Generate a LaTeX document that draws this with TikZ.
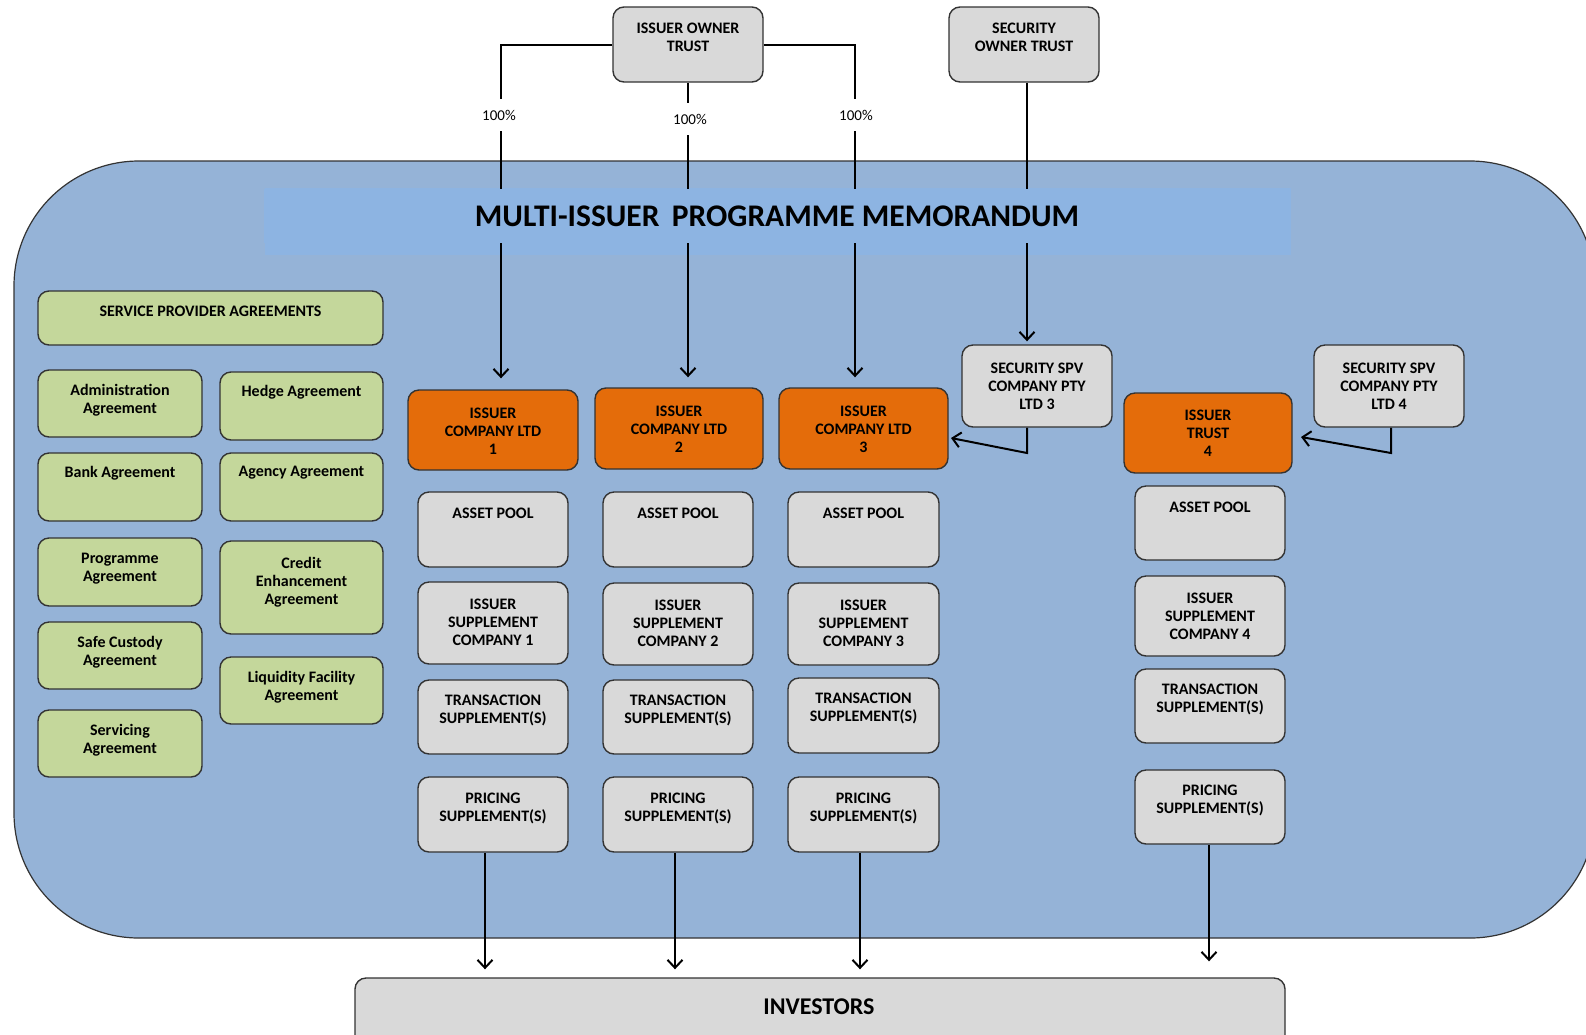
\documentclass[tikz,border=0pt]{standalone}
\usepackage{fontspec}
\setmainfont{Carlito}
\usetikzlibrary{arrows.meta,fit,calc}
\definecolor{bgblue}{HTML}{95B3D7}
\definecolor{bandblue}{HTML}{8DB4E2}
\definecolor{orng}{HTML}{E46C0A}
\definecolor{gry}{HTML}{D9D9D9}
\definecolor{grn}{HTML}{C4D79B}
\definecolor{edgec}{HTML}{333333}
\pgfdeclarelayer{bg}\pgfdeclarelayer{ln}\pgfsetlayers{bg,ln,main}
\newcommand\bx[8]{\node[#1, fit={(#3,#4) (#5,#6)}] (#2) {};
  \node[txt] (#2t) at ({(#3+#5)/2},#7) {#8};}
\begin{document}
\begin{tikzpicture}[x=1pt,y=-1pt,
  boxbase/.style={draw=edgec, line width=1.4pt, rounded corners=11pt, inner sep=0pt},
  gbox/.style={boxbase, fill=gry},
  obox/.style={boxbase, fill=orng},
  grbox/.style={boxbase, fill=grn},
  txt/.style={font=\fontsize{16}{18}\selectfont\bfseries, align=center, inner sep=0pt, text=black},
  conn/.style={line width=2pt, draw=black},
  arr/.style={conn, -{Straight Barb[length=8pt,width=15pt,line width=2pt]}},
  pct/.style={font=\fontsize{15}{17}\selectfont, fill=white, inner sep=0pt, minimum height=32pt, minimum width=38pt}
]
\useasboundingbox (0,0) rectangle (1586,1034);
\begin{pgfonlayer}{bg}
  \draw[draw=edgec, line width=1.2pt, fill=bgblue, rounded corners=125pt] (14,161) rectangle (1595,938);
  \fill[bandblue] (265,188) rectangle (1291,255);
\end{pgfonlayer}

% top trusts
\bx{gbox}{iot}{613}{7}{763}{82}{37}{ISSUER OWNER\\TRUST}
\bx{gbox}{sot}{949}{7}{1099}{82}{37}{SECURITY\\OWNER TRUST}

% service provider agreements
\bx{grbox}{spa}{38}{291}{383}{345}{311}{SERVICE PROVIDER AGREEMENTS}
\bx{grbox}{adm}{38}{370}{202}{437}{400}{Administration\\Agreement}
\bx{grbox}{hed}{220}{372}{383}{440}{392}{Hedge Agreement}
\bx{grbox}{bnk}{38}{453}{202}{521}{473}{Bank Agreement}
\bx{grbox}{agy}{220}{453}{383}{521}{473}{Agency Agreement}
\bx{grbox}{prg}{38}{538}{202}{606}{569}{Programme\\Agreement}
\bx{grbox}{crd}{220}{541}{383}{634}{582}{Credit\\Enhancement\\Agreement}
\bx{grbox}{saf}{38}{622}{202}{689}{652}{Safe Custody\\Agreement}
\bx{grbox}{liq}{220}{657}{383}{724}{687}{Liquidity Facility\\Agreement}
\bx{grbox}{svc}{38}{710}{202}{777}{740}{Servicing\\Agreement}

% issuers
\bx{obox}{ic1}{408}{390}{578}{470}{431}{ISSUER\\COMPANY LTD\\1}
\bx{obox}{ic2}{595}{388}{763}{469}{429}{ISSUER\\COMPANY LTD\\2}
\bx{obox}{ic3}{779}{388}{948}{469}{429}{ISSUER\\COMPANY LTD\\3}
\bx{obox}{it4}{1124}{393}{1292}{473}{433}{ISSUER\\TRUST\\4}
\bx{gbox}{spv3}{962}{345}{1112}{427}{386}{SECURITY SPV\\COMPANY PTY\\LTD 3}
\bx{gbox}{spv4}{1314}{345}{1464}{427}{386}{SECURITY SPV\\COMPANY PTY\\LTD 4}

% column 1
\bx{gbox}{ap1}{418}{492}{568}{567}{513}{ASSET POOL}
\bx{gbox}{is1}{418}{582}{568}{664}{622.5}{ISSUER\\SUPPLEMENT\\COMPANY 1}
\bx{gbox}{ts1}{418}{680}{568}{754}{710}{TRANSACTION\\SUPPLEMENT(S)}
\bx{gbox}{ps1}{418}{777}{568}{852}{808}{PRICING\\SUPPLEMENT(S)}
% column 2
\bx{gbox}{ap2}{603}{492}{753}{567}{513}{ASSET POOL}
\bx{gbox}{is2}{603}{583}{753}{665}{623.5}{ISSUER\\SUPPLEMENT\\COMPANY 2}
\bx{gbox}{ts2}{603}{680}{753}{754}{710}{TRANSACTION\\SUPPLEMENT(S)}
\bx{gbox}{ps2}{603}{777}{753}{852}{808}{PRICING\\SUPPLEMENT(S)}
% column 3
\bx{gbox}{ap3}{788}{492}{939}{567}{513}{ASSET POOL}
\bx{gbox}{is3}{788}{583}{939}{665}{623.5}{ISSUER\\SUPPLEMENT\\COMPANY 3}
\bx{gbox}{ts3}{788}{678}{939}{753}{708}{TRANSACTION\\SUPPLEMENT(S)}
\bx{gbox}{ps3}{788}{777}{939}{852}{808}{PRICING\\SUPPLEMENT(S)}
% column 4
\bx{gbox}{ap4}{1135}{486}{1285}{560}{507}{ASSET POOL}
\bx{gbox}{is4}{1135}{576}{1285}{656}{616.5}{ISSUER\\SUPPLEMENT\\COMPANY 4}
\bx{gbox}{ts4}{1135}{669}{1285}{743}{699}{TRANSACTION\\SUPPLEMENT(S)}
\bx{gbox}{ps4}{1135}{770}{1285}{844}{800}{PRICING\\SUPPLEMENT(S)}

% investors
\node[gbox, fit={(355,978) (1285,1050)}] (inv) {};
\node[txt, font=\fontsize{24}{28}\selectfont\bfseries] (invt) at (819,1006.5) {INVESTORS};

% title
\node[fill=bandblue, minimum width=1026pt, minimum height=54pt, inner sep=0pt,
      font=\fontsize{31.5}{36}\selectfont\bfseries, text=black] (title) at (777,216)
      {MULTI-ISSUER\ \,PROGRAMME MEMORANDUM};

% percentage labels
\node[pct] (pc1) at (499,115) {100\%};
\node[pct] (pc2) at (690,119) {100\%};
\node[pct] (pc3) at (856,115) {100\%};

% connectors
\coordinate (k1) at (501,44.5);
\coordinate (k3) at (855,44.5);
\coordinate (k4) at (1027,0);
\coordinate (k5) at (1027,453);
\coordinate (t3) at (951,438);
\coordinate (k6) at (1391,453);
\coordinate (t4) at (1301,437);
\coordinate (d1) at (485,0);
\coordinate (d2) at (675,0);
\coordinate (d3) at (860,0);
\coordinate (d4) at (1209,0);
\begin{pgfonlayer}{ln}
  \draw[arr, shorten >=11pt] (iot.west) -- (k1) -- (k1 |- ic1.north);
  \draw[arr, shorten >=10pt] (iot.south) -- (iot.south |- ic2.north);
  \draw[arr, shorten >=10pt] (iot.east) -- (k3) -- (k3 |- ic3.north);
  \draw[arr, shorten >=3pt] (sot.south -| k4) -- (spv3.north -| k4);
  \draw[arr] (spv3.south -| k5) -- (k5) -- (t3);
  \draw[arr] (spv4.south -| k6) -- (k6) -- (t4);
  \draw[arr, shorten >=8pt] (ps1.south -| d1) -- (inv.north -| d1);
  \draw[arr, shorten >=8pt] (ps2.south -| d2) -- (inv.north -| d2);
  \draw[arr, shorten >=8pt] (ps3.south -| d3) -- (inv.north -| d3);
  \draw[arr, shorten >=16pt] (ps4.south -| d4) -- (inv.north -| d4);
\end{pgfonlayer}
\end{tikzpicture}
\end{document}
